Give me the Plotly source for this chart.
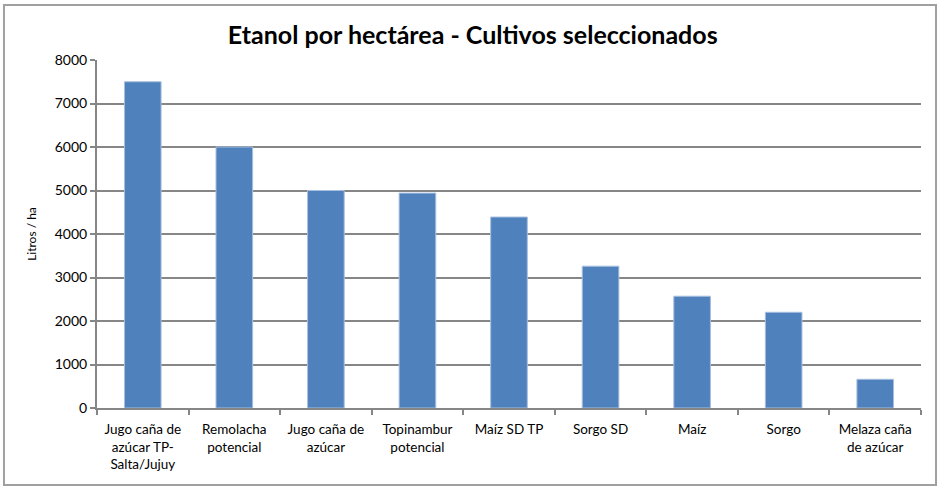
import plotly.graph_objects as go

categories = [
    "Jugo caña de<br>azúcar TP-<br>Salta/Jujuy",
    "Remolacha<br>potencial",
    "Jugo caña de<br>azúcar",
    "Topinambur<br>potencial",
    "Maíz SD TP",
    "Sorgo SD",
    "Maíz",
    "Sorgo",
    "Melaza caña<br>de azúcar",
]
litros_ha = [7500, 6000, 5000, 4940, 4390, 3260, 2570, 2200, 660]
y_ticks = [0, 1000, 2000, 3000, 4000, 5000, 6000, 7000, 8000]

FONT = "Lato, Open Sans, sans-serif"
GRID = "#868686"

fig = go.Figure()
fig.add_trace(go.Bar(
    x=categories, y=litros_ha,
    marker=dict(color="#4F81BD", line=dict(color="#A7BFDE", width=1)),
))

fig.update_layout(
    width=938, height=488,
    margin=dict(l=97, r=17, t=60, b=80),
    paper_bgcolor="white", plot_bgcolor="white",
    showlegend=False,
    bargap=0.6,
    font=dict(family=FONT, color="#000000", size=13),
    title=dict(text="<b>Etanol por hectárea - Cultivos seleccionados</b>",
               x=0.504, xanchor="center", y=0.928, yanchor="middle",
               font=dict(family=FONT, size=25, color="#000000")),
    xaxis=dict(
        showline=True, linecolor=GRID, linewidth=2,
        ticks="outside", tickson="boundaries", ticklen=5, tickcolor=GRID, tickwidth=2,
        showgrid=False, tickfont=dict(size=13.5), ticklabelstandoff=8,
    ),
    yaxis=dict(
        range=[0, 8000], tickvals=y_ticks,
        showline=True, linecolor=GRID, linewidth=2,
        ticks="outside", ticklen=5, tickcolor=GRID, tickwidth=2,
        showgrid=True, gridcolor=GRID, gridwidth=2,
        zeroline=False, tickfont=dict(size=14),
        title=dict(text="Litros / ha", font=dict(size=12), standoff=16),
    ),
    shapes=[dict(type="rect", xref="paper", yref="paper",
                 x0=-0.1129, x1=1.0182, y0=-0.221, y1=1.158,
                 line=dict(color="#A0A0A0", width=2), fillcolor="rgba(0,0,0,0)", layer="below")],
)

fig.write_html("out.html", config={"displayModeBar": False},
               post_script="document.body.style.margin='0';")
